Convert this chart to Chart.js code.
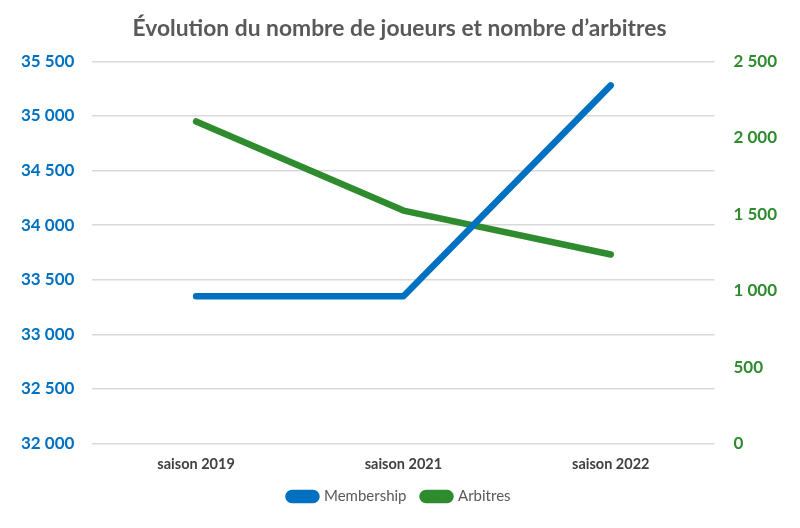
<!DOCTYPE html>
<html>
<head>
<meta charset="utf-8">
<script src="https://cdn.jsdelivr.net/npm/chart.js@4"></script>
<style>
html,body{margin:0;padding:0;background:#fff;}
#wrap{width:800px;height:528px;}
</style>
</head>
<body>
<div id="wrap"><canvas id="c" width="800" height="528"></canvas></div>
<script>
const categories = ["saison 2019", "saison 2021", "saison 2022"];
const membership = [33350, 33350, 35280];
const arbitres = [2107, 1524, 1237];
const leftTicks = [32000, 32500, 33000, 33500, 34000, 34500, 35000, 35500];
const rightTicks = [0, 500, 1000, 1500, 2000, 2500];

const BLUE = "#0070C0";
const GREEN = "#2E8B2E";
const fmt = v => String(v).replace(/\B(?=(\d{3})+(?!\d))/g, " ");
const FONT = "Lato";

new Chart(document.getElementById("c"), {
  type: "line",
  data: {
    labels: categories,
    datasets: [
      { label: "Membership", data: membership, yAxisID: "y", borderColor: BLUE, backgroundColor: BLUE,
        borderWidth: 6.5, pointRadius: 0, borderCapStyle: "round", borderJoinStyle: "round", tension: 0 },
      { label: "Arbitres", data: arbitres, yAxisID: "y2", borderColor: GREEN, backgroundColor: GREEN,
        borderWidth: 6.5, pointRadius: 0, borderCapStyle: "round", borderJoinStyle: "round", tension: 0 }
    ]
  },
  options: {
    responsive: false,
    animation: false,
    layout: { padding: { left: 3, right: 4, top: 6, bottom: 14 } },
    plugins: {
      title: {
        display: true,
        text: "Évolution du nombre de joueurs et nombre d’arbitres",
        color: "#595959",
        font: { family: FONT, size: 22.8, weight: "bold" },
        padding: { top: 9, bottom: 19 }
      },
      legend: {
        position: "bottom",
        labels: {
          color: "#595959",
          font: { family: FONT, size: 15 },
          boxWidth: 28, boxHeight: 7,
          useBorderRadius: true, borderRadius: 3.5,
          padding: 16
        }
      },
      tooltip: { enabled: false }
    },
    scales: {
      x: {
        type: "category",
        offset: true,
        grid: { display: false, drawTicks: false },
        border: { display: false },
        afterFit: s => { s.height -= 12; },
        ticks: { color: "#404040", font: { family: FONT, size: 14.5, weight: "bold" }, padding: 12 }
      },
      y: {
        position: "left",
        min: 32000, max: 35500,
        afterBuildTicks: s => { s.ticks = leftTicks.map(v => ({ value: v })); },
        grid: { color: "#D9D9D9", lineWidth: 1.5, drawTicks: false },
        border: { display: false },
        ticks: { color: BLUE, font: { family: FONT, size: 17, weight: "bold" }, padding: 18, callback: v => fmt(v) }
      },
      y2: {
        position: "right",
        min: 0, max: 2500,
        afterBuildTicks: s => { s.ticks = rightTicks.map(v => ({ value: v })); },
        grid: { display: false, drawTicks: false },
        border: { display: false },
        ticks: { color: GREEN, font: { family: FONT, size: 17, weight: "bold" }, padding: 19, callback: v => fmt(v) }
      }
    }
  }
});
</script>
</body>
</html>
